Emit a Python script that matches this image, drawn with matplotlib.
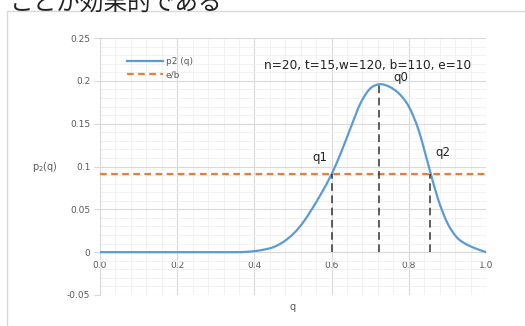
import numpy as np
import matplotlib.pyplot as plt
from matplotlib.patches import Rectangle, PathPatch
from matplotlib.path import Path

# values
q = [0.0, 0.05, 0.1, 0.15, 0.2, 0.25, 0.3, 0.35, 0.375, 0.4, 0.425, 0.45, 0.475,
     0.5, 0.525, 0.55, 0.575, 0.6, 0.625, 0.65, 0.675, 0.7, 0.725, 0.75, 0.775,
     0.8, 0.825, 0.85, 0.875, 0.9, 0.925, 0.95, 0.975, 1.0]
p2 = [0, 0, 0, 0, 0, 0, 0, 0, 0.0003, 0.0012, 0.003, 0.006, 0.012,
      0.021, 0.034, 0.051, 0.070, 0.091, 0.117, 0.146, 0.174, 0.191, 0.196, 0.193, 0.185,
      0.170, 0.143, 0.103, 0.063, 0.034, 0.017, 0.009, 0.004, 0.0]
e_over_b = 0.0909
q_marks = [0.602, 0.724, 0.855]
q_mark_vals = [0.0909, 0.196, 0.0909]
q_names = ['q1', 'q0', 'q2']
q_name_pos = [(0.57, 0.110), (0.78, 0.204), (0.888, 0.116)]
note = 'n=20, t=15,w=120, b=110, e=10'

grey = '#595959'


def smooth_path(xs, ys):
    # excel style smoothed line: catmull-rom segments drawn as cubic beziers
    pts = np.column_stack([xs, ys])
    verts = [pts[0]]
    codes = [Path.MOVETO]
    n = len(pts)
    for i in range(n - 1):
        p0 = pts[max(i - 1, 0)]
        p1 = pts[i]
        p2_ = pts[i + 1]
        p3 = pts[min(i + 2, n - 1)]
        verts += [p1 + (p2_ - p0) / 6, p2_ - (p3 - p1) / 6, p2_]
        codes += [Path.CURVE4] * 3
    return Path(verts, codes)


fig = plt.figure(figsize=(5.25, 3.26), dpi=100)

# chopped heading text above the chart
fig.text(10 / 525, 1 - 10 / 326, 'ことが効果的である', fontsize=17,
         family=['Noto Sans CJK JP', 'DejaVu Sans'], color='#222222', va='baseline')
# chart frame
fig.patches.append(Rectangle((7 / 525, -0.1), 1.2, 1.1 - 11 / 326,
                             transform=fig.transFigure, fill=False,
                             edgecolor='#d9d9d9', linewidth=1))

ax = fig.add_axes([100 / 525, 1 - 295 / 326, 386 / 525, 257 / 326])
ax.set_xlim(0, 1.0)
ax.set_ylim(-0.05, 0.25)

ax.set_xticks(np.arange(0, 1.01, 0.2))
ax.set_xticklabels(['0.0', '0.2', '0.4', '0.6', '0.8', '1.0'])
ax.set_yticks([-0.05, 0, 0.05, 0.1, 0.15, 0.2, 0.25])
ax.set_yticklabels(['-0.05', '0', '0.05', '0.1', '0.15', '0.2', '0.25'])
ax.set_xticks(np.arange(0, 1.001, 0.04), minor=True)
ax.set_yticks(np.arange(-0.05, 0.2501, 0.01), minor=True)
ax.grid(which='major', color='#d9d9d9', linewidth=0.8)
ax.grid(which='minor', color='#f0f0f0', linewidth=0.6)
ax.set_axisbelow(True)

for s in ['top', 'right']:
    ax.spines[s].set_visible(False)
ax.spines['bottom'].set_position(('data', 0))
ax.spines['bottom'].set_color('#d9d9d9')
ax.spines['left'].set_color('#d9d9d9')
ax.tick_params(axis='x', which='both', length=0, labelsize=6.5, labelcolor=grey, pad=6)
ax.tick_params(axis='y', which='major', length=4, color='#d9d9d9', labelsize=6.5,
               labelcolor=grey, pad=3)
ax.tick_params(axis='y', which='minor', length=0)

curve = PathPatch(smooth_path(q, p2), fill=False, edgecolor='#5b9bd5',
                  linewidth=1.6, zorder=4, transform=ax.transData)
ax.add_patch(curve)
# empty line only for the legend entry
ax.plot([], [], color='#5b9bd5', linewidth=1.6, label='p2 (q)')
ax.axhline(e_over_b, color='#ed7d31', linewidth=1.6, linestyle=(0, (3, 2)),
           label='e/b', zorder=3)

for xm, ym in zip(q_marks, q_mark_vals):
    ax.plot([xm, xm], [0, ym], color='#333333', linewidth=1.1,
            linestyle=(0, (5, 3)), zorder=5)
for name, (tx, ty) in zip(q_names, q_name_pos):
    ax.text(tx, ty, name, fontsize=8.5, color='#222222', ha='center', va='center')

ax.text(0.694, 0.218, note, fontsize=8.7, color='#222222', ha='center', va='center')

ax.legend(loc='upper left', bbox_to_anchor=(0.06, 0.94), frameon=False,
          fontsize=6.5, labelcolor=grey, handlelength=4, handletextpad=0.3,
          labelspacing=0.5, borderaxespad=0)

fig.text(45 / 525, 1 - 167 / 326, 'p$_2$(q)', fontsize=7, color=grey,
         ha='center', va='center')
fig.text(293 / 525, 1 - 307 / 326, 'q', fontsize=7, color=grey,
         ha='center', va='center')

fig.savefig('out.png', dpi=100)
